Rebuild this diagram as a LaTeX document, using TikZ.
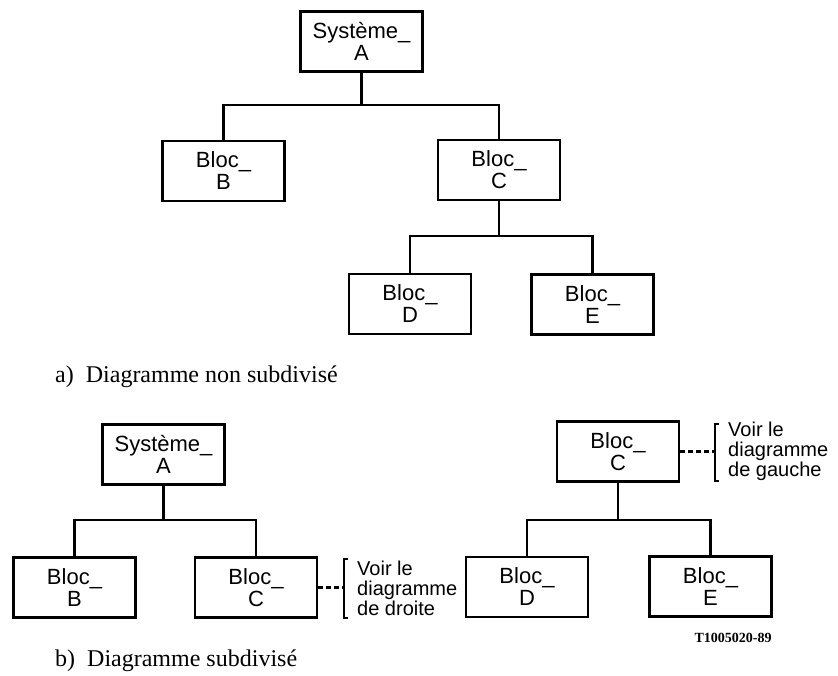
\documentclass[tikz,border=0pt]{standalone}
\usepackage{fontspec}
\setmainfont{Liberation Serif}
\newfontfamily\boxfont{Liberation Sans}
\begin{document}
\begin{tikzpicture}[x=1pt,y=-1pt,
  blk/.style={draw,line width=2.7pt,minimum width=122pt,minimum height=60pt,
    inner sep=0pt,align=center,font=\boxfont\fontsize{22pt}{22pt}\selectfont},
  link/.style={line width=2.1pt},
  ref/.style={line width=2.1pt,dash pattern=on 5pt off 3pt},
  brk/.style={line width=2.1pt},
  note/.style={anchor=west,inner sep=0pt,align=left,
    font=\boxfont\fontsize{20pt}{20pt}\selectfont},
  caption/.style={anchor=base west,inner sep=0pt,font=\fontsize{24pt}{26pt}\selectfont}]
\useasboundingbox (0,0) rectangle (838,675);

% ---- a) full hierarchy ----
\node[blk] (sa) at (361.5,41.5) {Système\_\\A};
\node[blk] (ba) at (223.5,171) {Bloc\_\\B};
\node[blk] (ca) at (499,170) {Bloc\_\\C};
\node[blk] (da) at (410,304) {Bloc\_\\D};
\node[blk] (ea) at (592.5,304.5) {Bloc\_\\E};
\coordinate (ja) at (361.5,105);
\coordinate (jc) at (499,236);
\draw[link] (sa.south) -- (ja);
\draw[link] (ba.north) |- (ja) -| (ca.north);
\draw[link] (ca.south) -- (jc);
\draw[link] (da.north) |- (jc) -| (ea.north);
\node[caption] (capa) at (55,382) {a)\ \ Diagramme non subdivisé};

% ---- b) split hierarchy, left part ----
\node[blk] (sb) at (163.5,454.5) {Système\_\\A};
\node[blk] (bb) at (74.5,587.5) {Bloc\_\\B};
\node[blk] (cb) at (256,587.5) {Bloc\_\\C};
\coordinate (jb) at (163.5,520);
\draw[link] (sb.south) -- (jb);
\draw[link] (bb.north) |- (jb) -| (cb.north);
\coordinate (kb1) at (344,559);
\coordinate (kb2) at (344,618);
\coordinate (kbm) at (344,587.5);
\draw[ref] (cb.east) -- (kbm);
\draw[brk] ([xshift=4pt]kb1) -- (kb1) -- (kb2) -- ([xshift=4pt]kb2);
\node[note] (nb) at (357,588) {Voir le\\diagramme\\de droite};

% ---- b) split hierarchy, right part ----
\node[blk] (cc) at (618,451.5) {Bloc\_\\C};
\node[blk] (dc) at (527,587) {Bloc\_\\D};
\node[blk] (ec) at (710.5,586.5) {Bloc\_\\E};
\coordinate (jd) at (618,520);
\draw[link] (cc.south) -- (jd);
\draw[link] (dc.north) |- (jd) -| (ec.north);
\coordinate (kc1) at (715,424);
\coordinate (kc2) at (715,481);
\coordinate (kcm) at (715,451.5);
\draw[ref] (cc.east) -- (kcm);
\draw[brk] ([xshift=4pt]kc1) -- (kc1) -- (kc2) -- ([xshift=4pt]kc2);
\node[note] (nc) at (728,451) {Voir le\\diagramme\\de gauche};

\node[inner sep=0pt,font=\bfseries\fontsize{14pt}{16pt}\selectfont] (code) at (733,638) {T1005020-89};
\node[caption] (capb) at (55,666) {b)\ \ Diagramme subdivisé};
\end{tikzpicture}
\end{document}
